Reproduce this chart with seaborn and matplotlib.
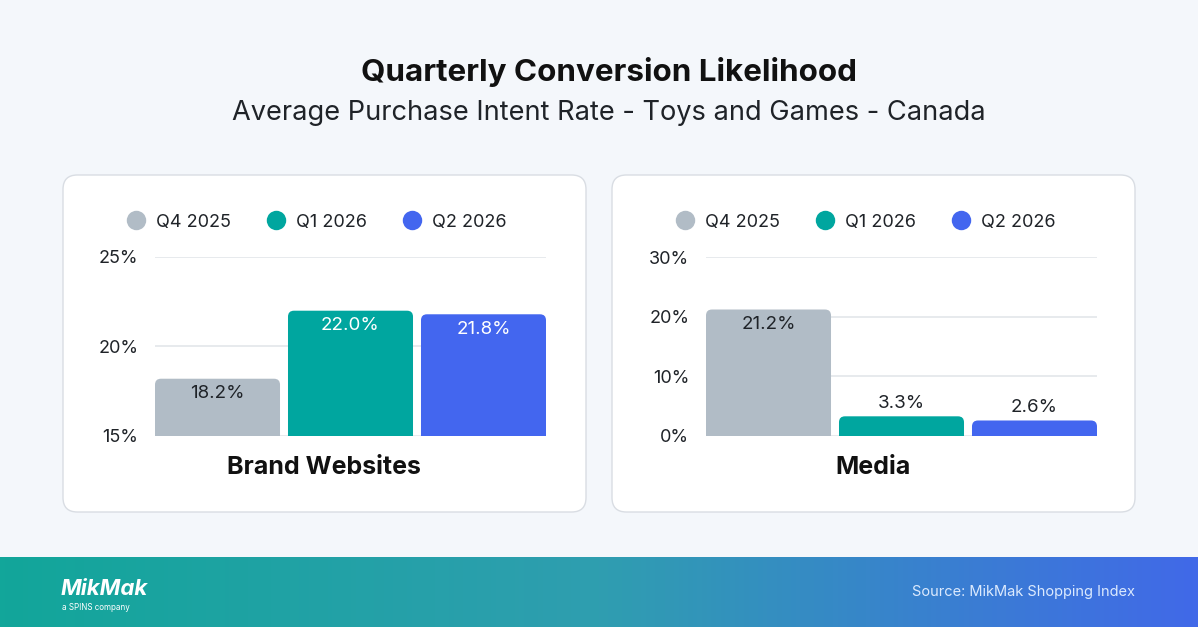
import numpy as np
import seaborn as sns
import matplotlib.pyplot as plt
from matplotlib.patches import FancyBboxPatch
from matplotlib.lines import Line2D
from matplotlib.colors import LinearSegmentedColormap

sns.set_theme(style="white")
plt.rcParams['font.family'] = ['Inter', 'DejaVu Sans']

# data
quarters = ["Q4 2025", "Q1 2026", "Q2 2026"]
brand_websites = [18.2, 22.0, 21.8]
media = [21.2, 3.3, 2.6]
panels = ["Brand Websites", "Media"]
colors = ["#b1bcc6", "#00a69f", "#4366ef"]
label_colors = ["#1f2328", "#ffffff", "#ffffff"]

W, H = 1198, 627
fig = plt.figure(figsize=(W / 100, H / 100), dpi=100)
fig.patch.set_facecolor("#f4f7fb")


def fx(px):
    return px / W


def fy(py):
    return 1 - py / H


# title
fig.text(fx(609), fy(72), "Quarterly Conversion Likelihood", ha="center", va="center",
         fontsize=22.6, fontweight="bold", color="#111111")
fig.text(fx(609), fy(113), "Average Purchase Intent Rate - Toys and Games - Canada",
         ha="center", va="center", fontsize=19.6, color="#1f2328")

# cards
for x0 in (63, 612):
    card = FancyBboxPatch((fx(x0), fy(512)), fx(523), 337 / H,
                          boxstyle="round,pad=0,rounding_size=0.012",
                          transform=fig.transFigure, facecolor="white",
                          edgecolor="#d9dde3", linewidth=1.0,
                          mutation_aspect=W / H, zorder=-5)
    fig.patches.append(card)

# footer gradient
fax = fig.add_axes([0, 0, 1, 70 / H])
grad = np.linspace(0, 1, 256).reshape(1, -1)
cmap = LinearSegmentedColormap.from_list("foot", ["#12a69a", "#2f9eb0", "#4169e8"])
fax.imshow(grad, aspect="auto", cmap=cmap, extent=[0, 1, 0, 1])
fax.set_axis_off()
fig.text(fx(61), fy(589), "MikMak", ha="left", va="center", fontsize=16,
         fontweight="bold", fontstyle="italic", color="white")
fig.text(fx(62), fy(607), "a SPINS company", ha="left", va="center",
         fontsize=5.8, color="white")
fig.text(fx(1135), fy(592), "Source: MikMak Shopping Index", ha="right",
         va="center", fontsize=10.5, color="#dceafe")

specs = [
    (brand_websites, 155, (15, 25), [15, 20, 25], 324),
    (media, 706, (0, 30), [0, 10, 20, 30], 873),
]

ax_w, ax_h = 391, 179
for (vals, left, ylim, ticks, cx), name in zip(specs, panels):
    ax = fig.add_axes([fx(left), fy(436), fx(ax_w), ax_h / H])
    ax.set_facecolor("none")
    sns.barplot(x=quarters, y=vals, hue=quarters, palette=colors, width=0.94,
                legend=False, ax=ax, zorder=3, saturation=1)
    ax.set_xlim(-0.47, 2.47)
    ax.set_ylim(*ylim)
    span = ylim[1] - ylim[0]

    # round the top corners of the bars
    px_x = ax_w / 2.94
    px_y = ax_h / span
    r = 6 / px_x
    for p in list(ax.patches):
        x, w, top = p.get_x(), p.get_width(), p.get_y() + p.get_height()
        bottom = min(p.get_y(), ylim[0]) - 2 * r * px_x / px_y
        rb = FancyBboxPatch((x, bottom), w, top - bottom,
                            boxstyle=f"round,pad=0,rounding_size={r}",
                            mutation_aspect=px_x / px_y, facecolor=p.get_facecolor(),
                            edgecolor="none", zorder=3)
        ax.add_patch(rb)
        p.set_visible(False)

    ax.set_yticks(ticks)
    ax.set_yticklabels([f"{t}%" for t in ticks], fontsize=13, color="#1f2328")
    ax.tick_params(axis="y", length=0, pad=12)
    ax.set_xticks([])
    ax.set_axisbelow(True)
    ax.yaxis.grid(True, color="#e3e6ea", linewidth=1.2)
    for s in ax.spines.values():
        s.set_visible(False)
    for i, v in enumerate(vals):
        if (v - ylim[0]) / span > 0.2:
            ax.annotate(f"{v:.1f}%", (i, v), xytext=(0, -11), textcoords="offset points",
                        ha="center", va="center", fontsize=13.5, color=label_colors[i])
        else:
            ax.annotate(f"{v:.1f}%", (i, v), xytext=(0, 9), textcoords="offset points",
                        ha="center", va="center", fontsize=13.5, color="#1f2328")
    fig.text(fx(cx), fy(468), name, ha="center", va="center", fontsize=18,
             fontweight="bold", color="#111111")
    handles = [Line2D([], [], marker="o", ls="", markersize=14, color=c,
                      markeredgewidth=0) for c in colors]
    fig.legend(handles, quarters, loc="center", bbox_to_anchor=(fx(cx - 7), fy(222)),
               ncol=3, frameon=False, fontsize=13, handletextpad=0.6,
               columnspacing=2.0, handlelength=1.0, labelcolor="#1f2328")

fig.savefig("out.png", dpi=100, facecolor=fig.get_facecolor())
